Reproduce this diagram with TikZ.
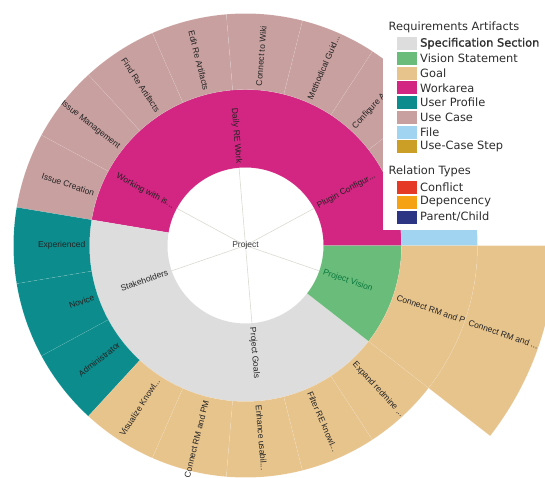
\documentclass[tikz,border=0pt]{standalone}
\usepackage{fontspec}
\setmainfont{Liberation Sans}
\newfontfamily\legfont{DejaVu Sans}
\newfontfamily\legfontb[FakeBold=1.2]{DejaVu Sans}
\definecolor{specgray}{RGB}{221,221,221}
\definecolor{visiongreen}{RGB}{106,188,123}
\definecolor{goaltan}{RGB}{232,196,141}
\definecolor{workmag}{RGB}{210,38,130}
\definecolor{userteal}{RGB}{12,140,140}
\definecolor{usecase}{RGB}{201,160,160}
\definecolor{fileblue}{RGB}{160,212,240}
\definecolor{ucstep}{RGB}{203,158,38}
\definecolor{relconf}{RGB}{228,58,38}
\definecolor{reldep}{RGB}{245,162,20}
\definecolor{relpc}{RGB}{44,52,132}
\definecolor{lbltext}{RGB}{35,35,35}
\definecolor{legtext}{RGB}{45,45,45}
\definecolor{spokegray}{RGB}{218,218,210}
\definecolor{pvtext}{RGB}{10,120,60}
\newcommand\sbseg[5]{\path[sep, fill=#5] (#1:#3) arc[start angle=#1,end angle=#2,radius=#3] -- (#2:#4) arc[start angle=#2,end angle=#1,radius=#4] -- cycle;}
\begin{document}
\begin{tikzpicture}[x=1pt,y=1pt,
  lbl/.style={font=\fontsize{8.5}{10}\selectfont, text=lbltext, inner sep=0pt},
  sep/.style={draw=white, draw opacity=0.15, line width=0.5pt},
  spoke/.style={draw=spokegray, line width=0.6pt},
  sw/.style={minimum width=20pt, minimum height=13pt, inner sep=0pt, anchor=west},
  legtxt/.style={font=\legfont\fontsize{11.4}{13}\selectfont, text=legtext, inner sep=0pt, anchor=west}]
\useasboundingbox (-245.5,-231.5) rectangle (299.5,245.5);
\clip (-245.5,-231.5) rectangle (299.5,245.5);
% ring 2 (Plugin Configur..., Daily RE Work, Working with is... share one colour; Stakeholders, Project Goals share one)
\sbseg{0}{170.53}{78}{156}{workmag}
\sbseg{170.53}{322.11}{78}{156}{specgray}
\sbseg{322.11}{360}{78}{156}{visiongreen}
% ring 3
\sbseg{0}{18.95}{156}{232}{fileblue}
\sbseg{18.95}{37.89}{156}{232}{usecase}
\sbseg{37.89}{56.84}{156}{232}{usecase}
\sbseg{56.84}{75.79}{156}{232}{usecase}
\sbseg{75.79}{94.74}{156}{232}{usecase}
\sbseg{94.74}{113.68}{156}{232}{usecase}
\sbseg{113.68}{132.63}{156}{232}{usecase}
\sbseg{132.63}{151.58}{156}{232}{usecase}
\sbseg{151.58}{170.53}{156}{232}{usecase}
\sbseg{170.53}{189.47}{156}{232}{userteal}
\sbseg{189.47}{208.42}{156}{232}{userteal}
\sbseg{208.42}{227.37}{156}{232}{userteal}
\sbseg{227.37}{246.32}{156}{232}{goaltan}
\sbseg{246.32}{265.26}{156}{232}{goaltan}
\sbseg{265.26}{284.21}{156}{232}{goaltan}
\sbseg{284.21}{303.16}{156}{232}{goaltan}
\sbseg{303.16}{322.11}{156}{232}{goaltan}
\sbseg{322.11}{360}{156}{232}{goaltan}
% ring 2 labels
\node[lbl, anchor=west, rotate=28.42] (l-plugin) at (28.42:82) {Plugin Configur...};
\node[lbl, anchor=east, rotate=-85.26] (l-daily) at (94.74:82) {Daily RE Work};
\node[lbl, anchor=east, rotate=-28.42] (l-working) at (151.58:82) {Working with is...};
\node[lbl, anchor=east, rotate=18.95] (l-stake) at (198.95:82) {Stakeholders};
\node[lbl, anchor=west, rotate=-85.26] (l-goals) at (274.74:82) {Project Goals};
\node[lbl, anchor=west, rotate=-18.95, text=pvtext] (l-vision) at (341.05:82) {Project Vision};
% ring 3 labels
\node[lbl, anchor=west, rotate=47.37] (l-config) at (47.37:160) {Configure A};
\node[lbl, anchor=west, rotate=66.32] (l-method) at (66.32:160) {Methodical Guid...};
\node[lbl, anchor=west, rotate=85.26] (l-wiki) at (85.26:160) {Connect to Wiki};
\node[lbl, anchor=east, rotate=-75.79] (l-edit) at (104.21:160) {Edit Re Artifacts};
\node[lbl, anchor=east, rotate=-56.84] (l-find) at (123.16:160) {Find Re Artifacts};
\node[lbl, anchor=east, rotate=-37.89] (l-issuem) at (142.11:160) {Issue Management};
\node[lbl, anchor=east, rotate=-18.95] (l-issuec) at (161.05:160) {Issue Creation};
\node[lbl, anchor=east, rotate=0] (l-exp) at (180:160) {Experienced};
\node[lbl, anchor=east, rotate=18.95] (l-novice) at (198.95:160) {Novice};
\node[lbl, anchor=east, rotate=37.89] (l-admin) at (217.89:160) {Administrator};
\node[lbl, anchor=east, rotate=56.84] (l-vis) at (236.84:160) {Visualize Knowl...};
\node[lbl, anchor=east, rotate=75.79] (l-crmpm) at (255.79:160) {Connect RM and PM};
\node[lbl, anchor=west, rotate=-85.26] (l-enh) at (274.74:160) {Enhance usabil...};
\node[lbl, anchor=west, rotate=-66.32] (l-filter) at (293.68:160) {Filter RE knowl...};
\node[lbl, anchor=west, rotate=-47.37] (l-expand) at (312.63:160) {Expand redmine ...};
\node[lbl, anchor=west, rotate=-18.95] (l-crmp) at (341.05:160) {Connect RM and P};
% ring 4
\sbseg{322.11}{360}{232}{310}{goaltan}
\node[lbl, anchor=west, rotate=-18.95] (l-crm4) at (341.05:236) {Connect RM and ...};
% centre
\coordinate (s1) at (28.42:78);
\coordinate (s2) at (94.74:78);
\coordinate (s3) at (151.58:78);
\coordinate (s4) at (198.95:78);
\coordinate (s5) at (274.74:78);
\coordinate (s6) at (341.05:78);
\coordinate (ctr) at (0,0);
\foreach \s in {s1,s2,s3,s4,s5,s6} {\draw[spoke] (ctr) -- (\s);}
\node[lbl, text={rgb,255:red,60;green,60;blue,60}] (project) at (ctr) {Project};
% legend
\fill[white] (137.8,15.5) rectangle (299.5,245.5);
\node[legtxt] (lg-title) at (143,218.5) {Requirements Artifacts};
\node[sw, fill=specgray] (sw1) at (151.5,202) {};
\node[sw, fill=visiongreen] (sw2) at (151.5,187.25) {};
\node[sw, fill=goaltan] (sw3) at (151.5,172.5) {};
\node[sw, fill=workmag] (sw4) at (151.5,157.75) {};
\node[sw, fill=userteal] (sw5) at (151.5,143) {};
\node[sw, fill=usecase] (sw6) at (151.5,128.25) {};
\node[sw, fill=fileblue] (sw7) at (151.5,113.5) {};
\node[sw, fill=ucstep] (sw8) at (151.5,98.75) {};
\node[legtxt, font=\legfontb\fontsize{11.4}{13}\selectfont] (t1) at (174.5,202) {Specification Section};
\node[legtxt] (t2) at (174.5,187.25) {Vision Statement};
\node[legtxt] (t3) at (174.5,172.5) {Goal};
\node[legtxt] (t4) at (174.5,157.75) {Workarea};
\node[legtxt] (t5) at (174.5,143) {User Profile};
\node[legtxt] (t6) at (174.5,128.25) {Use Case};
\node[legtxt] (t7) at (174.5,113.5) {File};
\node[legtxt] (t8) at (174.5,98.75) {Use-Case Step};
\node[legtxt] (lg-rel) at (143,74.5) {Relation Types};
\node[sw, fill=relconf] (sw9) at (151.5,58.5) {};
\node[sw, fill=reldep] (sw10) at (151.5,43.5) {};
\node[sw, fill=relpc] (sw11) at (151.5,28.5) {};
\node[legtxt] (t9) at (174.5,58.5) {Conflict};
\node[legtxt] (t10) at (174.5,43.5) {Depencency};
\node[legtxt] (t11) at (174.5,28.5) {Parent/Child};
\end{tikzpicture}
\end{document}
